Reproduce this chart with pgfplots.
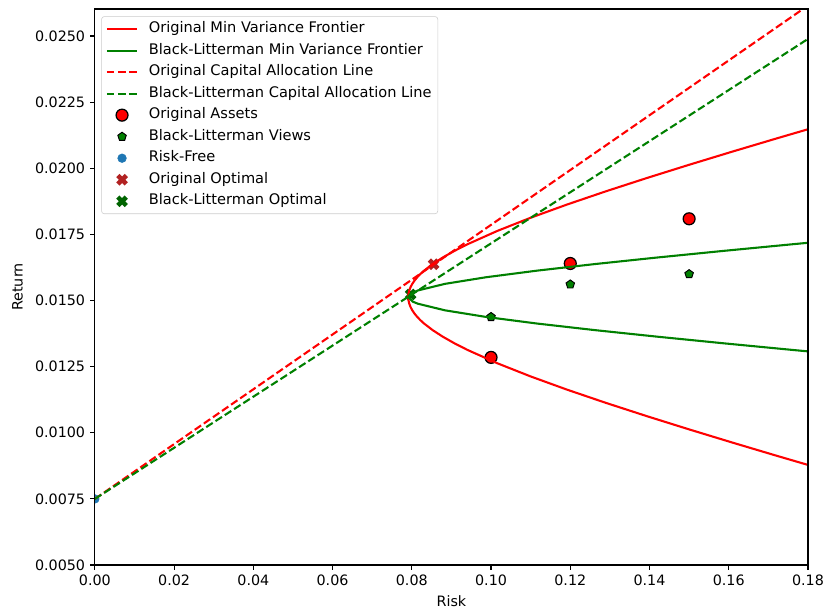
\documentclass[border=0pt]{standalone}
\usepackage{fontspec}
\setmainfont{DejaVu Sans}
\usepackage{pgfplots}
\pgfplotsset{compat=1.18}
\definecolor{mred}{HTML}{FF0000}
\definecolor{mgreen}{HTML}{008000}
\definecolor{mblue}{HTML}{1F77B4}
\definecolor{fbrick}{HTML}{B22222}
\definecolor{dgreen}{HTML}{006400}
\pgfdeclareplotmark{Xf}{%
  \pgftransformrotate{45}%
  \pgfpathmoveto{\pgfqpoint{0.38\pgfplotmarksize}{0.38\pgfplotmarksize}}%
  \pgfpathlineto{\pgfqpoint{0.38\pgfplotmarksize}{1\pgfplotmarksize}}%
  \pgfpathlineto{\pgfqpoint{-0.38\pgfplotmarksize}{1\pgfplotmarksize}}%
  \pgfpathlineto{\pgfqpoint{-0.38\pgfplotmarksize}{0.38\pgfplotmarksize}}%
  \pgfpathlineto{\pgfqpoint{-1\pgfplotmarksize}{0.38\pgfplotmarksize}}%
  \pgfpathlineto{\pgfqpoint{-1\pgfplotmarksize}{-0.38\pgfplotmarksize}}%
  \pgfpathlineto{\pgfqpoint{-0.38\pgfplotmarksize}{-0.38\pgfplotmarksize}}%
  \pgfpathlineto{\pgfqpoint{-0.38\pgfplotmarksize}{-1\pgfplotmarksize}}%
  \pgfpathlineto{\pgfqpoint{0.38\pgfplotmarksize}{-1\pgfplotmarksize}}%
  \pgfpathlineto{\pgfqpoint{0.38\pgfplotmarksize}{-0.38\pgfplotmarksize}}%
  \pgfpathlineto{\pgfqpoint{1\pgfplotmarksize}{-0.38\pgfplotmarksize}}%
  \pgfpathlineto{\pgfqpoint{1\pgfplotmarksize}{0.38\pgfplotmarksize}}%
  \pgfpathclose
  \pgfusepathqfill}
\pgfplotsset{
  lineleg/.style={legend image code/.code={\draw[##1, opacity=1] (0pt,0pt) -- (22pt,0pt);}},
  markleg/.style={legend image code/.code={\draw[##1, opacity=1, fill opacity=1] plot coordinates {(11pt,0pt)};}},
}
\begin{document}
\begin{tikzpicture}
\begin{axis}[
  scale only axis,
  width=513.4pt, height=400.3pt,
  xmin=0, xmax=0.18, ymin=0.005, ymax=0.02602,
  xtick={0,0.02,0.04,0.06,0.08,0.10,0.12,0.14,0.16,0.18},
  ytick={0.005,0.0075,0.01,0.0125,0.015,0.0175,0.02,0.0225,0.025},
  scaled ticks=false,
  ticklabel style={font=\fontsize{10.3}{12}\selectfont},
  xticklabel style={/pgf/number format/.cd,fixed,fixed zerofill,precision=2,assume math mode=true},
  yticklabel style={/pgf/number format/.cd,fixed,fixed zerofill,precision=4,assume math mode=true},
  tick align=outside, tick pos=left,
  major tick length=3.5pt,
  every tick/.style={black, line width=0.8pt},
  axis line style={line width=0.8pt, black},
  xlabel={Risk}, ylabel={Return},
  label style={font=\fontsize{10.3}{12}\selectfont},
  xlabel style={yshift=0pt}, ylabel style={yshift=2pt},
  clip marker paths=true,
  axis on top=true,
  legend cell align=left,
  legend style={draw=black!20, rounded corners=2pt, fill=white, fill opacity=0.8, text opacity=1,
    at={(0.009,0.987)}, anchor=north west, inner xsep=3pt, inner ysep=2.75pt,
    nodes={inner sep=1.5pt, text height=7.3pt, text depth=2.2pt, anchor=west},
    /tikz/every odd column/.append style={column sep=6pt},
    row sep=3pt, font=\fontsize{10.5}{12}\selectfont},
]
% scatter (below lines)
\addplot[forget plot, only marks, mark=*, mark size=4.3pt, mark options={fill=mred, draw=black, line width=0.9pt}]
  coordinates {(0.10,0.01285) (0.12,0.01640) (0.15,0.01809)};
\addplot[forget plot, only marks, mark=pentagon*, mark size=3.2pt, mark options={fill=mgreen, draw=black, line width=0.7pt}]
  coordinates {(0.10,0.01438) (0.12,0.01561) (0.15,0.01600)};
\addplot[forget plot, only marks, mark=*, mark size=3.1pt, mark options={fill=mblue, draw=mblue}]
  coordinates {(0,0.0075)};
\addplot[forget plot, only marks, mark=Xf, mark size=4.3pt, mark options={fill=fbrick, draw=none}]
  coordinates {(0.0855,0.01637)};
\addplot[forget plot, only marks, mark=Xf, mark size=4.3pt, mark options={fill=dgreen, draw=none}]
  coordinates {(0.0797,0.01523)};
% lines
\addplot[lineleg, mred, line width=1.5pt, no marks] coordinates {
 (0.18354,0.00863) (0.17213,0.00913) (0.16092,0.00963) (0.14996,0.01013) (0.13930,0.01063)
 (0.12901,0.01113) (0.11920,0.01163) (0.11000,0.01213) (0.10156,0.01263) (0.09409,0.01313)
 (0.09080,0.01338) (0.08785,0.01363) (0.08527,0.01388) (0.08310,0.01413) (0.08218,0.014255)
 (0.08138,0.01438) (0.08069,0.014505) (0.08012,0.01463) (0.07968,0.014755) (0.07936,0.01488)
 (0.07917,0.015005) (0.07910,0.01513) (0.07917,0.015255)
 (0.07936,0.01538) (0.07968,0.015505) (0.08012,0.01563) (0.08069,0.015755) (0.08138,0.01588)
 (0.08218,0.016005) (0.08310,0.01613) (0.08527,0.01638) (0.08785,0.01663) (0.09080,0.01688)
 (0.09409,0.01713) (0.10156,0.01763) (0.11000,0.01813) (0.11920,0.01863) (0.12901,0.01913)
 (0.13930,0.01963) (0.14996,0.02013) (0.16092,0.02063) (0.17213,0.02113) (0.18354,0.02163)};
\addlegendentry{Original Min Variance Frontier}
\addplot[lineleg, mgreen, line width=1.5pt, no marks] coordinates {
 (0.19406,0.01288) (0.17626,0.01313) (0.15892,0.01338) (0.14218,0.01363) (0.12629,0.01388)
 (0.11162,0.01413) (0.09872,0.01438) (0.08836,0.01463) (0.08152,0.01488) (0.08020,0.01496)
 (0.07910,0.01513)
 (0.07949,0.01523) (0.08152,0.01538) (0.08836,0.01563) (0.09872,0.01588) (0.11162,0.01613)
 (0.12629,0.01638) (0.14218,0.01663) (0.15892,0.01688) (0.17626,0.01713) (0.19406,0.01738)};
\addlegendentry{Black-Litterman Min Variance Frontier}
\addplot[lineleg, mred, line width=1.5pt, dash pattern=on 5.55pt off 2.4pt, no marks]
  coordinates {(0,0.0075) (0.18,0.02615)};
\addlegendentry{Original Capital Allocation Line}
\addplot[lineleg, mgreen, line width=1.5pt, dash pattern=on 5.55pt off 2.4pt, no marks]
  coordinates {(0,0.0075) (0.18,0.02489)};
\addlegendentry{Black-Litterman Capital Allocation Line}
\addlegendimage{markleg, only marks, mark=*, mark size=4.3pt, mark options={fill=mred, draw=black, line width=0.9pt}}
\addlegendentry{Original Assets}
\addlegendimage{markleg, only marks, mark=pentagon*, mark size=3.2pt, mark options={fill=mgreen, draw=black, line width=0.7pt}}
\addlegendentry{Black-Litterman Views}
\addlegendimage{markleg, only marks, mark=*, mark size=3.1pt, mark options={fill=mblue, draw=mblue}}
\addlegendentry{Risk-Free}
\addlegendimage{markleg, only marks, mark=Xf, mark size=4.3pt, mark options={fill=fbrick, draw=none}}
\addlegendentry{Original Optimal}
\addlegendimage{markleg, only marks, mark=Xf, mark size=4.3pt, mark options={fill=dgreen, draw=none}}
\addlegendentry{Black-Litterman Optimal}
\end{axis}
\pgfresetboundingbox
\path ([xshift=-68.3pt,yshift=-33.1pt]current axis.south west) rectangle ([xshift=13.7pt,yshift=6.5pt]current axis.north east);
\end{tikzpicture}
\end{document}
